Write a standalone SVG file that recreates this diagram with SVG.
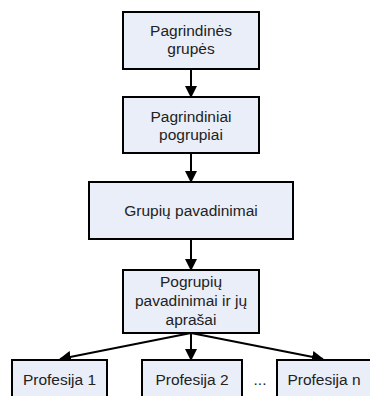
<svg xmlns="http://www.w3.org/2000/svg" width="370" height="396" viewBox="0 0 370 396">
<style>
.box{fill:#E9EEF8;stroke:#000;stroke-width:2}
.t{font-family:"Liberation Sans",Arial,sans-serif;font-size:15.5px;fill:#222;text-anchor:middle}
.c{stroke:#000;stroke-width:2;fill:none;marker-end:url(#ah)}
</style>
<defs>
<marker id="ah" markerWidth="12" markerHeight="12" viewBox="0 0 12 12" refX="11" refY="6" orient="auto" markerUnits="userSpaceOnUse">
<path d="M0,0 L12,6 L0,12 z" fill="#000"/>
</marker>
</defs>
<rect width="370" height="396" fill="#fff"/>
<g id="connectors">
<line class="c" x1="191" y1="69" x2="191" y2="97"/>
<line class="c" x1="191" y1="153" x2="191" y2="182"/>
<line class="c" x1="191" y1="239" x2="191" y2="270"/>
<line class="c" x1="191" y1="333" x2="191" y2="360"/>
<line class="c" x1="191" y1="333" x2="60" y2="359"/>
<line class="c" x1="191" y1="333" x2="323" y2="359"/>
</g>
<g id="n1">
<rect class="box" x="123" y="12" width="136" height="57"/>
<text class="t" x="191" y="36">Pagrindinės</text>
<text class="t" x="191" y="54">grupės</text>
</g>
<g id="n2">
<rect class="box" x="123" y="97" width="136" height="56"/>
<text class="t" x="191" y="122">Pagrindiniai</text>
<text class="t" x="191" y="140">pogrupiai</text>
</g>
<g id="n3">
<rect class="box" x="89" y="182" width="204" height="57"/>
<text class="t" x="191" y="216">Grupių pavadinimai</text>
</g>
<g id="n4">
<rect class="box" x="123" y="270" width="136" height="63"/>
<text class="t" x="191" y="287">Pogrupių</text>
<text class="t" x="191" y="306">pavadinimai ir jų</text>
<text class="t" x="191" y="325">aprašai</text>
</g>
<g id="p1">
<rect class="box" x="12" y="360" width="95" height="45"/>
<text class="t" x="59.5" y="385">Profesija 1</text>
</g>
<g id="p2">
<rect class="box" x="142" y="360" width="100" height="45"/>
<text class="t" x="192" y="385">Profesija 2</text>
</g>
<text class="t" x="260" y="385">...</text>
<g id="pn">
<rect class="box" x="277" y="360" width="96" height="45"/>
<text class="t" x="324" y="385">Profesija n</text>
</g>
</svg>
